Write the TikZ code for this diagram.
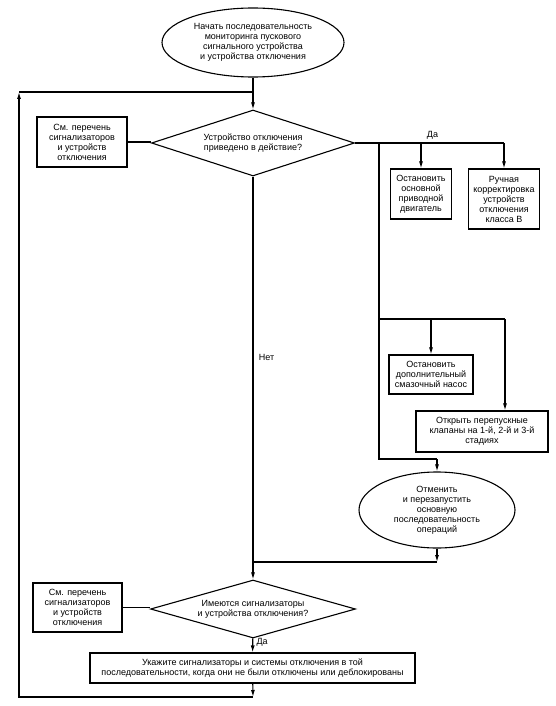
\documentclass[tikz,border=0pt]{standalone}
\usepackage{fontspec}
\setmainfont{Liberation Sans}
\usetikzlibrary{positioning,calc,arrows.meta,shapes.geometric}
\tikzset{dtext/.style={font=\fontsize{9}{10}\selectfont, align=center}}
\tikzset{dbox/.style={dtext, draw, line width=1.1pt, inner sep=1pt}}
\tikzset{doval/.style={dtext, draw, ellipse, line width=1.1pt, inner sep=0pt}}
\tikzset{ddiam/.style={dtext, draw, diamond, line width=1.1pt, inner sep=0pt}}
\tikzset{arr/.style={draw, line width=1.1pt, -{Latex[length=7pt,width=4pt]}}}
\tikzset{ln/.style={draw, line width=1.1pt}}

\begin{document}
\begin{tikzpicture}[x=1pt,y=-1pt]
	\useasboundingbox (0,0) rectangle (556,706);
	\node[doval, minimum width=182pt, minimum height=69pt] (start) at (253,42.5)
		{Начать последовательность\\мониторинга пускового\\сигнального устройства\\и устройства отключения};
	\node[ddiam, shape aspect=3.1, minimum width=203pt, minimum height=66pt] (trip) at (253,143)
		{Устройство отключения\\приведено в действие?};
	\node[dbox, minimum width=90pt, minimum height=50pt] (see1) at (82,142)
		{См. перечень\\сигнализаторов\\и устройств\\отключения};
	\node[dbox, minimum width=61pt, minimum height=50pt] (stopmain) at (421,194)
		{Остановить\\основной\\приводной\\двигатель};
	\node[dbox, minimum width=71pt, minimum height=60pt] (manual) at (504,199)
		{Ручная\\корректировка\\устройств\\отключения\\класса В};
	\node[dbox, minimum width=84pt, minimum height=39pt] (stoplub) at (431,374.5)
		{Остановить\\дополнительный\\смазочный насос};
	\node[dbox, minimum width=132pt, minimum height=41pt] (bypass) at (482,431.5)
		{Открыть перепускные\\клапаны на 1-й, 2-й и 3-й\\стадиях};
	\node[doval, minimum width=156pt, minimum height=76pt] (restart) at (437,510)
		{Отменить\\и перезапустить\\основную\\последовательность\\операций};
	\node[ddiam, shape aspect=3.5, minimum width=205pt, minimum height=58pt] (avail) at (253,609)
		{Имеются сигнализаторы\\и устройства отключения?};
	\node[dbox, minimum width=89pt, minimum height=49pt] (see2) at (77.5,607.5)
		{См. перечень\\сигнализаторов\\и устройств\\отключения};
	\node[dbox, minimum width=325pt, minimum height=30pt, inner xsep=0pt] (list) at (252.5,668)
		{Укажите сигнализаторы и системы отключения в той\\последовательности, когда они не были отключены или деблокированы};

	\coordinate (top) at (253,92);
	\coordinate (topl) at (19,92);
	\coordinate (bot) at (253,697);
	\coordinate (yes1) at (379,143);
	\coordinate (yes3) at (504,143);
	\coordinate (br1) at (379,319);
	\coordinate (br3) at (505,319);
	\coordinate (br4) at (379,459);
	\coordinate (br5) at (437,459);
	\coordinate (back) at (437,562);
	\coordinate (join) at (253,562);

	\draw[arr] (start) -- (trip);
	\draw[ln] (topl) -- (top);
	\draw[ln] (see1.east) -- (see1.east -| trip.west);
	\draw[ln] (trip.east) -- node[dtext, above, xshift=3pt]{Да} (yes3);
	\draw[arr] (trip.east -| stopmain) -- (stopmain);
	\draw[arr] (yes3) -- (manual);
	\draw[ln] (yes1) -- (br4) -- (br5);
	\draw[ln] (br1) -- (br3);
	\draw[arr] (br1 -| stoplub) -- (stoplub);
	\draw[arr] (br3) -- (br3 |- bypass.north);
	\draw[arr] (br5) -- (restart);
	\draw[arr] (restart) -- (back);
	\draw[ln] (back) -- (join);
	\draw[arr] (trip) -- node[dtext, right=2pt, pos=0.45]{Нет} (avail);
	\draw[ln] (see2.east) -- (see2.east -| avail.west);
	\draw[arr] (avail) -- node[dtext, right, pos=0.3]{Да} (list);
	\draw[arr] (list) -- (bot);
	\draw[arr] (bot) -| (topl);
\end{tikzpicture}
\end{document}
